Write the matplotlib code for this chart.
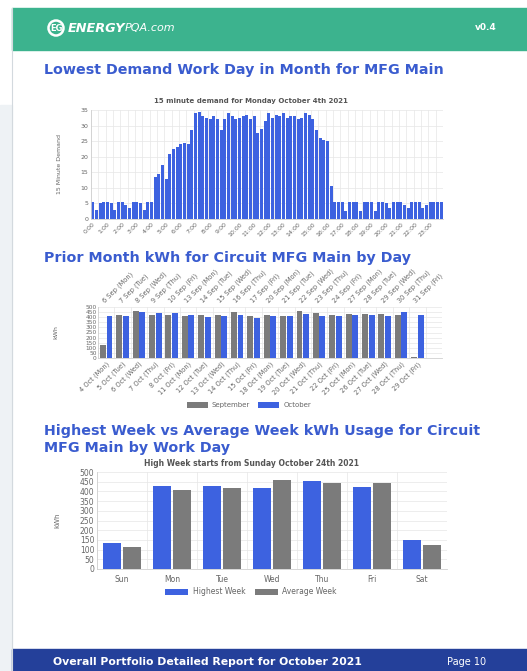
import matplotlib.pyplot as plt
from matplotlib.patches import Rectangle, Circle
import numpy as np

# page size in pixels
W, H = 527, 671

# chart 1 - 15 minute demand (kW), 96 intervals
demand_kw = [5.5, 3, 5, 5.5, 5.5, 5, 3, 5.5, 5.5, 4.5, 3.5, 5.5, 5.5, 5, 3, 5.5, 5.5,
             13.5, 14.5, 17.5, 13, 21, 22.5, 23, 24, 24.5, 24, 28.5, 34,
             34.5, 33, 32.5, 32, 33, 32, 28.5, 32, 34, 33,
             32, 32.5, 33, 33.5, 32, 33, 27.5, 29, 31.5, 34,
             32.5, 33.5, 33, 34, 32.5, 33, 33, 32, 32.5, 34,
             33.5, 32, 28.5, 26, 25.5, 25, 10.5,
             5.5, 5.5, 5.5, 2.5, 5.5, 5.5, 5.5, 2.5, 5.5, 5.5,
             5.5, 2.5, 5.5, 5.5, 5, 3.5, 5.5, 5.5, 5.5, 4.5,
             3.5, 5.5, 5.5, 5.5, 3.5, 4.5, 5.5, 5.5, 5.5, 5.5]
hour_labels = ['%d:00' % h for h in range(24)]

# chart 2 - prior month by day
sep_days = ['6 Sep (Mon)', '7 Sep (Tue)', '8 Sep (Wed)', '9 Sep (Thu)', '10 Sep (Fri)',
            '13 Sep (Mon)', '14 Sep (Tue)', '15 Sep (Wed)', '16 Sep (Thu)', '17 Sep (Fri)',
            '20 Sep (Mon)', '21 Sep (Tue)', '22 Sep (Wed)', '23 Sep (Thu)', '24 Sep (Fri)',
            '27 Sep (Mon)', '28 Sep (Tue)', '29 Sep (Wed)', '30 Sep (Thu)', '31 Sep (Fri)']
oct_days = ['4 Oct (Mon)', '5 Oct (Tue)', '6 Oct (Wed)', '7 Oct (Thu)', '8 Oct (Fri)',
            '11 Oct (Mon)', '12 Oct (Tue)', '13 Oct (Wed)', '14 Oct (Thu)', '15 Oct (Fri)',
            '18 Oct (Mon)', '19 Oct (Tue)', '20 Oct (Wed)', '21 Oct (Thu)', '22 Oct (Fri)',
            '25 Oct (Mon)', '26 Oct (Tue)', '27 Oct (Wed)', '28 Oct (Thu)', '29 Oct (Fri)']
sep_kwh = [124, 425, 457, 425, 418, 408, 422, 425, 448, 415,
           425, 415, 457, 444, 418, 434, 434, 434, 418, 7]
oct_kwh = [408, 415, 451, 438, 438, 422, 402, 408, 418, 395,
           415, 415, 434, 415, 408, 422, 422, 415, 448, 418]

# chart 3 - highest week vs average week
weekdays = ['Sun', 'Mon', 'Tue', 'Wed', 'Thu', 'Fri', 'Sat']
high_week = [136, 429, 429, 419, 455, 421, 150]
avg_week = [114, 409, 419, 459, 443, 441, 126]

blue = '#3d62e0'
gray = '#7b7b7b'
title_blue = '#3a5ccf'
tick_col = '#666666'
grid_col = '#e6e6e6'


def box(x0, y0, x1, y1):
    return [x0 / W, 1 - y1 / H, (x1 - x0) / W, (y1 - y0) / H]


fig = plt.figure(figsize=(W / 100, H / 100), dpi=100)

# page background, header, footer
bg = fig.add_axes([0, 0, 1, 1])
bg.set_xlim(0, W)
bg.set_ylim(H, 0)
bg.axis('off')
bg.add_patch(Rectangle((0, 105), 11.5, H - 105, color='#eef2f5'))
bg.plot([11.5, 11.5], [8, H], color='#d3d9de', lw=0.8)
bg.add_patch(Rectangle((12, 8), W - 12, 42, color='#3cb38e'))
bg.add_patch(Rectangle((12, 649), W - 12, 22, color='#24409a'))

bg.add_patch(Circle((56, 28), 7.5, fill=False, ec='white', lw=1.8))
bg.text(56.5, 28.5, 'EG', color='white', fontsize=6, fontweight='bold', ha='center', va='center')
bg.text(125, 28, 'ENERGY', color='white', fontsize=9.3, fontweight='bold', style='italic',
        ha='right', va='center')
bg.text(125, 28, 'PQA.com', color='white', fontsize=8, style='italic', ha='left', va='center')
bg.text(497, 28, 'v0.4', color='white', fontsize=6.5, fontweight='bold', ha='right', va='center')

bg.text(44, 70, 'Lowest Demand Work Day in Month for MFG Main', color=title_blue,
        fontsize=10.3, fontweight='bold', va='center')
bg.text(44, 258, 'Prior Month kWh for Circuit MFG Main by Day', color=title_blue,
        fontsize=10.3, fontweight='bold', va='center')
bg.text(44, 431, 'Highest Week vs Average Week kWh Usage for Circuit', color=title_blue,
        fontsize=10.3, fontweight='bold', va='center')
bg.text(44, 448, 'MFG Main by Work Day', color=title_blue,
        fontsize=10.3, fontweight='bold', va='center')

bg.text(251, 101, '15 minute demand for Monday October 4th 2021', color='#555555',
        fontsize=5, fontweight='bold', ha='center', va='center')
bg.text(251, 464, 'High Week starts from Sunday October 24th 2021', color='#555555',
        fontsize=5.5, fontweight='bold', ha='center', va='center')

bg.text(53, 662, 'Overall Portfolio Detailed Report for October 2021', color='white',
        fontsize=7.8, fontweight='bold', va='center')
bg.text(447, 662, 'Page 10', color='white', fontsize=7, va='center')


def style_axes(ax):
    for s in ['top', 'right']:
        ax.spines[s].set_visible(False)
    for s in ['left', 'bottom']:
        ax.spines[s].set_color('#d0d0d0')
        ax.spines[s].set_linewidth(0.6)
    ax.tick_params(length=0, colors=tick_col, pad=2)
    ax.set_axisbelow(True)


# chart 1
ax1 = fig.add_axes(box(91, 110, 443, 219))
x1 = np.arange(len(demand_kw))
ax1.bar(x1, demand_kw, width=0.85, color=blue)
ax1.set_xlim(-0.5, len(demand_kw) - 0.5)
ax1.set_ylim(0, 35)
ax1.set_yticks(np.arange(0, 36, 5))
ax1.set_xticks(x1[::4])
ax1.set_xticklabels(hour_labels, rotation=45, ha='right', rotation_mode='anchor')
ax1.set_xticks(np.arange(-0.5, len(demand_kw), 2), minor=True)
ax1.grid(which='minor', axis='x', color=grid_col, lw=0.5)
ax1.grid(which='major', axis='y', color=grid_col, lw=0.5)
style_axes(ax1)
ax1.tick_params(which='minor', length=0)
ax1.tick_params(axis='both', labelsize=4.5)
ax1.set_ylabel('15 Minute Demand', fontsize=4.5, color=tick_col)
ax1.yaxis.set_label_coords(-0.082, 0.5)

# chart 2
ax2 = fig.add_axes(box(98, 307, 442, 358))
n2 = len(sep_kwh)
x2 = np.arange(n2)
b_sep = ax2.bar(x2 - 0.2, sep_kwh, width=0.36, color=gray, label='September')
b_oct = ax2.bar(x2 + 0.2, oct_kwh, width=0.36, color=blue, label='October')
ax2.set_xlim(-0.5, n2 + 0.5)
ax2.set_ylim(0, 500)
ax2.set_yticks(np.arange(0, 501, 50))
ax2.set_xticks(x2)
ax2.set_xticklabels(oct_days, rotation=45, ha='right', rotation_mode='anchor')
ax2.set_xticks(np.arange(-0.5, n2 + 1, 1), minor=True)
ax2.grid(which='minor', axis='x', color=grid_col, lw=0.5)
ax2.grid(which='major', axis='y', color=grid_col, lw=0.5)
style_axes(ax2)
ax2.tick_params(which='minor', length=0)
ax2.tick_params(axis='x', labelsize=4.8)
ax2.tick_params(axis='y', labelsize=4.2, pad=1)
ax2.set_ylabel('kWh', fontsize=4.5, color=tick_col)
ax2.yaxis.set_label_coords(-0.116, 0.5)

ax2t = ax2.twiny()
ax2t.set_xlim(ax2.get_xlim())
ax2t.set_xticks(x2)
ax2t.set_xticklabels(sep_days, rotation=45, ha='left', rotation_mode='anchor')
ax2t.tick_params(length=0, colors=tick_col, labelsize=4.8, pad=2)
for s in ax2t.spines.values():
    s.set_visible(False)

fig.legend(handles=[b_sep, b_oct], labels=['September', 'October'], loc='center',
           bbox_to_anchor=(249 / W, 1 - 405 / H), ncol=2, frameon=False, fontsize=5,
           handlelength=3, handleheight=0.9, handletextpad=0.6, columnspacing=1.2,
           labelcolor=tick_col)

# chart 3
ax3 = fig.add_axes(box(97, 472, 447, 569))
x3 = np.arange(len(weekdays))
b_high = ax3.bar(x3 - 0.2, high_week, width=0.36, color=blue, label='Highest Week')
b_avg = ax3.bar(x3 + 0.2, avg_week, width=0.36, color=gray, label='Average Week')
ax3.set_xlim(-0.5, len(weekdays) - 0.5)
ax3.set_ylim(0, 500)
ax3.set_yticks(np.arange(0, 501, 50))
ax3.set_xticks(x3)
ax3.set_xticklabels(weekdays)
ax3.set_xticks(np.arange(-0.5, len(weekdays), 1), minor=True)
ax3.grid(which='minor', axis='x', color=grid_col, lw=0.5)
ax3.grid(which='major', axis='y', color=grid_col, lw=0.5)
style_axes(ax3)
ax3.tick_params(which='minor', length=0)
ax3.tick_params(axis='both', labelsize=5.5)
ax3.tick_params(axis='x', pad=4)
ax3.set_ylabel('kWh', fontsize=5, color=tick_col)
ax3.yaxis.set_label_coords(-0.106, 0.5)

fig.legend(handles=[b_high, b_avg], labels=['Highest Week', 'Average Week'], loc='center',
           bbox_to_anchor=(251 / W, 1 - 592 / H), ncol=2, frameon=False, fontsize=5.5,
           handlelength=3, handleheight=0.9, handletextpad=0.6, columnspacing=1.2,
           labelcolor=tick_col)

fig.savefig('out.png', dpi=100)
